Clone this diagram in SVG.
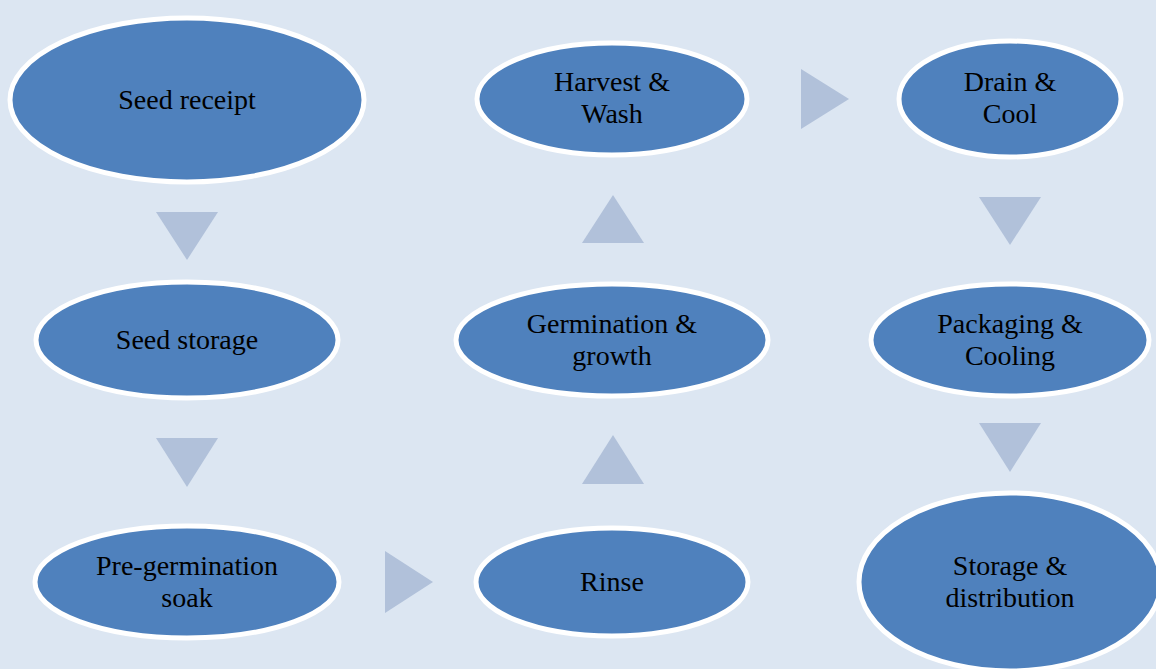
<svg xmlns="http://www.w3.org/2000/svg" width="1156" height="669" viewBox="0 0 1156 669">
<style>
.n{fill:#4F81BD;stroke:#FFFFFF;stroke-width:5}
.t{font-family:"Liberation Serif",serif;font-size:28px;fill:#000000;text-anchor:middle}
.a{fill:#B1C1DA}
</style>
<rect width="1156" height="669" fill="#DCE6F2"/>
<g id="connectors">
<polygon class="a" points="156,212 218,212 187,260"/>
<polygon class="a" points="156,438 218,438 187,487"/>
<polygon class="a" points="385,551 385,613 433,582"/>
<polygon class="a" points="582,484 644,484 613,435"/>
<polygon class="a" points="582,243 644,243 613,195"/>
<polygon class="a" points="801,69 801,129 849,99"/>
<polygon class="a" points="979,197 1041,197 1010,245"/>
<polygon class="a" points="979,423 1041,423 1010,472"/>
</g>
<g id="seed-receipt"><ellipse class="n" cx="187" cy="100" rx="177" ry="82"/><text class="t" x="187" y="109">Seed receipt</text></g>
<g id="seed-storage"><ellipse class="n" cx="187" cy="340" rx="151" ry="58"/><text class="t" x="187" y="349">Seed storage</text></g>
<g id="pre-germination-soak"><ellipse class="n" cx="187" cy="582" rx="152" ry="56"/><text class="t" x="187" y="575">Pre-germination</text><text class="t" x="187" y="607">soak</text></g>
<g id="rinse"><ellipse class="n" cx="612" cy="582" rx="136" ry="54"/><text class="t" x="612" y="591">Rinse</text></g>
<g id="germination-growth"><ellipse class="n" cx="612" cy="340" rx="156" ry="56"/><text class="t" x="612" y="333">Germination &amp;</text><text class="t" x="612" y="365">growth</text></g>
<g id="harvest-wash"><ellipse class="n" cx="612" cy="99" rx="135" ry="56"/><text class="t" x="612" y="91">Harvest &amp;</text><text class="t" x="612" y="123">Wash</text></g>
<g id="drain-cool"><ellipse class="n" cx="1010" cy="99" rx="111" ry="58"/><text class="t" x="1010" y="91">Drain &amp;</text><text class="t" x="1010" y="123">Cool</text></g>
<g id="packaging-cooling"><ellipse class="n" cx="1010" cy="340" rx="139" ry="56"/><text class="t" x="1010" y="333">Packaging &amp;</text><text class="t" x="1010" y="365">Cooling</text></g>
<g id="storage-distribution"><ellipse class="n" cx="1010" cy="582" rx="151" ry="89"/><text class="t" x="1010" y="575">Storage &amp;</text><text class="t" x="1010" y="607">distribution</text></g>
</svg>
